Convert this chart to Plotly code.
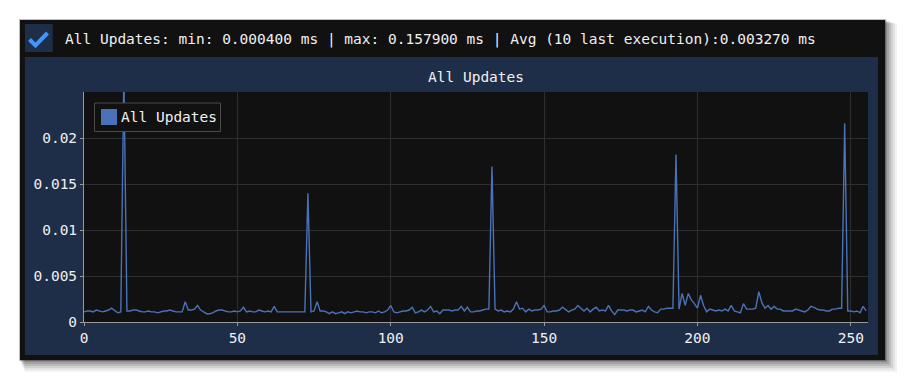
import plotly.graph_objects as go

# ---------------- data ----------------
series_name = "All Updates"
header_text = "All Updates: min: 0.000400 ms | max: 0.157900 ms | Avg (10 last execution):0.003270 ms"
title_text = "All Updates"

x_vals = list(range(256))
y_vals = [
    0.0011, 0.0012, 0.0012, 0.0011, 0.0013, 0.0012, 0.0011, 0.0012, 0.0013, 0.0015,
    0.0012, 0.0010, 0.0011, 0.0270, 0.0012, 0.0012, 0.0013, 0.0013, 0.0012, 0.0011,
    0.0011, 0.0012, 0.0011, 0.0011, 0.0010, 0.0011, 0.0012, 0.0012, 0.0013, 0.0012,
    0.0011, 0.0011, 0.0011, 0.0022, 0.0013, 0.0013, 0.0014, 0.0018, 0.0013, 0.0011,
    0.0009, 0.0009, 0.0010, 0.0012, 0.0013, 0.0013, 0.0012, 0.0011, 0.0011, 0.0012,
    0.0011, 0.0012, 0.0016, 0.0011, 0.0012, 0.0011, 0.0011, 0.0013, 0.0012, 0.0011,
    0.0012, 0.0011, 0.0017, 0.0011, 0.0011, 0.0011, 0.0011, 0.0011, 0.0011, 0.0011,
    0.0011, 0.0011, 0.0011, 0.0140, 0.0011, 0.0012, 0.0022, 0.0012, 0.0012, 0.0011,
    0.0009, 0.0011, 0.0009, 0.0010, 0.0011, 0.0009, 0.0011, 0.0010, 0.0011, 0.0012,
    0.0011, 0.0011, 0.0010, 0.0011, 0.0011, 0.0010, 0.0012, 0.0010, 0.0011, 0.0013,
    0.0018, 0.0011, 0.0010, 0.0011, 0.0012, 0.0012, 0.0013, 0.0016, 0.0010, 0.0011,
    0.0013, 0.0011, 0.0013, 0.0017, 0.0011, 0.0012, 0.0009, 0.0013, 0.0013, 0.0013,
    0.0012, 0.0013, 0.0013, 0.0017, 0.0012, 0.0016, 0.0011, 0.0011, 0.0012, 0.0012,
    0.0013, 0.0014, 0.0014, 0.0169, 0.0014, 0.0012, 0.0013, 0.0011, 0.0012, 0.0011,
    0.0014, 0.0022, 0.0014, 0.0015, 0.0011, 0.0014, 0.0012, 0.0013, 0.0013, 0.0014,
    0.0018, 0.0011, 0.0011, 0.0012, 0.0012, 0.0013, 0.0016, 0.0013, 0.0011, 0.0013,
    0.0014, 0.0018, 0.0015, 0.0012, 0.0015, 0.0011, 0.0014, 0.0016, 0.0012, 0.0013,
    0.0012, 0.0018, 0.0012, 0.0008, 0.0013, 0.0013, 0.0013, 0.0012, 0.0013, 0.0013,
    0.0011, 0.0012, 0.0013, 0.0011, 0.0017, 0.0013, 0.0011, 0.0010, 0.0014, 0.0014,
    0.0015, 0.0015, 0.0015, 0.0182, 0.0014, 0.0031, 0.0018, 0.0031, 0.0024, 0.0020,
    0.0015, 0.0029, 0.0018, 0.0011, 0.0014, 0.0013, 0.0012, 0.0013, 0.0012, 0.0014,
    0.0012, 0.0018, 0.0012, 0.0011, 0.0010, 0.0020, 0.0014, 0.0014, 0.0014, 0.0015,
    0.0033, 0.0021, 0.0015, 0.0018, 0.0014, 0.0017, 0.0014, 0.0014, 0.0012, 0.0012,
    0.0012, 0.0012, 0.0014, 0.0013, 0.0012, 0.0011, 0.0013, 0.0017, 0.0016, 0.0014,
    0.0013, 0.0013, 0.0012, 0.0012, 0.0014, 0.0014, 0.0015, 0.0015, 0.0216, 0.0012,
    0.0012, 0.0011, 0.0012, 0.0010, 0.0017, 0.0012,
]
x_tick_vals = [0, 50, 100, 150, 200, 250]
x_tick_text = ["0", "50", "100", "150", "200", "250"]
y_tick_vals = [0, 0.005, 0.01, 0.015, 0.02]
y_tick_text = ["0", "0.005", "0.01", "0.015", "0.02"]
x_range = [0, 255.6]
y_range = [0, 0.025]

# ---------------- style ----------------
W, H = 905, 381
L, R, T, B = 84, 868, 92, 322
FONT = "DejaVu Sans Mono"
FS = 14.5
TXT = "#f0f0f0"
NAVY = "#1f2e48"
DARK = "#111111"
LINE = "#4a72b8"


def px(v):
    return (v - L) / (R - L)


def py(v):
    return (B - v) / (B - T)


def rect(x0, y0, x1, y1, fill, line_color=None, layer="below", lw=0):
    return dict(type="rect", xref="paper", yref="paper",
                x0=px(x0), x1=px(x1), y0=py(y1), y1=py(y0),
                fillcolor=fill, layer=layer,
                line=dict(color=line_color or fill, width=lw))


shapes = []
# drop shadow (soft, to the right and below)
for k, a in [(12, 0.05), (10, 0.06), (8, 0.08), (6, 0.10), (4, 0.12), (2, 0.15)]:
    shapes.append(rect(20 + k * 0.4, 20 + k * 0.3, 885 + k, 360 + k,
                       "rgba(0,0,0,%s)" % a))
# thin halo around the window
shapes.append(rect(19, 19, 886, 361, "rgba(0,0,0,0.25)"))
# window frame
shapes.append(rect(20, 20, 885, 360, DARK))
# panel
shapes.append(rect(25, 57, 878, 355, NAVY))
# checkbox
shapes.append(rect(25, 24, 52.7, 52, NAVY))
# plot area background
shapes.append(rect(L, T, R, B, DARK))
# check mark
shapes.append(dict(type="path", xref="paper", yref="paper", layer="above",
                   path="M %f,%f L %f,%f L %f,%f" % (px(29.5), py(39.5), px(35.5), py(45.5), px(47.5), py(33)),
                   line=dict(color="#4296fa", width=4)))
# legend box
shapes.append(rect(94.5, 103, 220.5, 131.5, DARK, "#4a4a4a", layer="above", lw=1))
shapes.append(rect(101, 109, 117, 125, LINE, layer="above"))

annotations = [
    dict(text=header_text, xref="paper", yref="paper", x=px(63), y=py(39),
         xanchor="left", yanchor="middle", showarrow=False,
         font=dict(family=FONT, size=FS, color=TXT)),
    dict(text=title_text, xref="paper", yref="paper", x=0.5, y=py(77),
         xanchor="center", yanchor="middle", showarrow=False,
         font=dict(family=FONT, size=FS, color=TXT)),
    dict(text=series_name, xref="paper", yref="paper", x=px(118.5), y=py(117),
         xanchor="left", yanchor="middle", showarrow=False,
         font=dict(family=FONT, size=FS, color=TXT)),
]

fig = go.Figure()
fig.add_trace(go.Scatter(x=x_vals, y=y_vals, mode="lines", name=series_name,
                         line=dict(color=LINE, width=1.4), showlegend=False,
                         hoverinfo="x+y"))

fig.update_layout(
    width=W, height=H,
    margin=dict(l=L, r=W - R, t=T, b=H - B, pad=0),
    paper_bgcolor="white", plot_bgcolor=DARK,
    font=dict(family=FONT, size=FS, color=TXT),
    shapes=shapes, annotations=annotations,
    showlegend=False,
    xaxis=dict(range=x_range, tickvals=x_tick_vals, ticktext=x_tick_text,
               showgrid=True, gridcolor="#2e2e2e", gridwidth=1,
               showline=True, linecolor="#9a9a9a", linewidth=1,
               ticks="outside", ticklen=3, tickcolor="#9a9a9a",
               zeroline=False, tickfont=dict(family=FONT, size=FS, color=TXT)),
    yaxis=dict(range=y_range, tickvals=y_tick_vals, ticktext=y_tick_text,
               showgrid=True, gridcolor="#2e2e2e", gridwidth=1,
               showline=True, linecolor="#9a9a9a", linewidth=1,
               ticks="outside", ticklen=3, tickcolor="#9a9a9a",
               zeroline=False, tickfont=dict(family=FONT, size=FS, color=TXT)),
)

fig.write_html("out.html")
